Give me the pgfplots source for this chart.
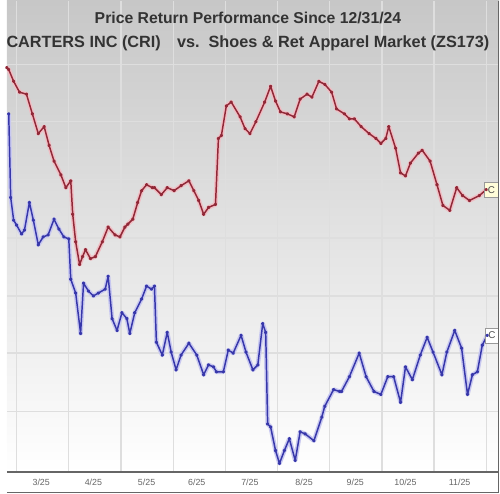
\documentclass[border=0pt]{standalone}
\usepackage{fontspec}
\setmainfont{Liberation Sans}
\usepackage{pgfplots}
\pgfplotsset{compat=1.18}
\begin{document}
\begin{tikzpicture}
\fill[white] (0pt,0pt) rectangle (500pt,500pt);
\fill[black!22] (0pt,440pt) rectangle (500pt,500pt);
\foreach \i in {0,...,38} {
  \pgfmathsetmacro{\shadeval}{20*(1-\i/39)^1.3}
  \pgfmathsetmacro{\ytop}{440-\i*8}
  \pgfmathsetmacro{\ybot}{440-\i*8-8.5}
  \fill[black!\shadeval] (0pt,\ybot pt) rectangle (500pt,\ytop pt);
}
\begin{axis}[
  at={(0pt,21pt)}, anchor=south west,
  scale only axis, width=500pt, height=479pt,
  xmin=0, xmax=500, ymin=0, ymax=479,
  axis background/.style={shade, top color=black!22, middle color=black!6, bottom color=white},
  axis line style={draw=none},
  xtick={35,88,142,193,247,302,354,405,460},
  xticklabels={3/25,4/25,5/25,6/25,7/25,8/25,9/25,10/25,11/25},
  xticklabel style={font=\fontsize{9}{10}\selectfont, text=black!60, yshift=-3pt},
  minor xtick={10,63,116,169,222,275,328,381,434,487},
  xminorgrids,
  ytick={62,121,179,238,297,356,414},
  yticklabels={},
  ymajorgrids,
  major tick length=0pt, minor tick length=0pt,
  grid style={black!13, line width=1.3pt},
  minor grid style={black!13, line width=1.3pt},
]
\addplot[color={rgb,255:red,145;green,40;blue,55}, line width=1.5pt, line join=round,
  preaction={draw={rgb,255:red,240;green,190;blue,196}, line width=4.5pt},
  mark=*, mark size=1pt] table {
x y
0 411
2 409
7 397
13 386
20 384
26 364
32 344
38 351
43 332
48 316
55 302
60 289
65 296
67 262
70 234
74 211
77 219
80 226
85 217
90 219
97 234
103 249
110 241
115 239
120 249
123 252
128 257
133 274
137 286
142 292
148 289
150 289
157 282
163 289
170 286
177 291
185 296
190 286
195 276
200 262
205 269
212 272
215 339
218 342
223 372
228 376
237 361
242 349
247 344
253 356
262 376
268 392
273 377
278 366
285 364
292 361
298 379
305 384
310 381
317 397
323 394
330 386
335 369
343 364
348 359
353 359
360 351
368 344
375 339
380 334
385 339
388 351
395 329
400 304
405 301
410 314
418 324
422 327
430 316
437 292
443 271
450 266
457 289
463 281
470 276
480 281
487 287
};
\addplot[color={rgb,255:red,55;green,55;blue,170}, line width=1.5pt, line join=round,
  preaction={draw={rgb,255:red,200;green,200;blue,240}, line width=4.5pt},
  mark=*, mark size=1pt] table {
x y
2 364
4 279
7 256
10 251
15 242
18 246
23 274
27 256
32 231
37 239
42 241
48 257
53 247
58 239
63 237
65 196
70 182
75 141
78 192
83 184
88 179
93 182
100 186
103 199
107 156
112 144
117 162
122 156
125 141
130 162
137 176
142 189
147 186
150 189
152 132
158 119
163 142
167 122
172 104
177 119
185 131
193 119
200 99
205 109
210 107
213 102
220 102
225 124
230 121
238 139
243 122
250 104
255 109
260 151
263 142
265 49
268 46
273 22
277 9
282 22
287 34
293 12
298 41
303 39
312 32
320 56
323 67
332 84
338 82
340 82
348 97
358 121
365 97
373 82
380 79
387 97
393 97
400 71
405 107
412 94
420 119
427 137
433 122
442 99
447 122
455 144
462 126
468 79
473 99
478 102
483 129
488 139
};
\node[draw=black!40, fill=yellow!15, anchor=west, minimum width=14pt, minimum height=15pt, inner sep=1pt, font=\fontsize{10}{11}\selectfont, text=black!70] at (axis cs:485,287) {C};
\node[draw=black!40, fill=white, anchor=west, minimum width=13pt, minimum height=15pt, inner sep=1pt, font=\fontsize{10}{11}\selectfont, text=black!70] at (axis cs:486,139) {C};
\node[text=black!80, font=\fontsize{16}{18}\selectfont\bfseries] at (axis cs:245,461) {Price Return Performance Since 12/31/24};
\node[text=black!80, font=\fontsize{16.5}{18}\selectfont\bfseries] at (axis cs:245,436) {CARTERS INC (CRI)\quad vs.\ \ Shoes \& Ret Apparel Market (ZS173)};
\end{axis}
\draw[black!60, line width=2pt] (0pt,21pt) -- (500pt,21pt);
\draw[black!60, line width=1pt] (0pt,0.5pt) -- (500pt,0.5pt);
\draw[black!60, line width=1pt] (499.5pt,0pt) -- (499.5pt,500pt);
\useasboundingbox (0pt,0pt) rectangle (500pt,500pt);
\end{tikzpicture}
\end{document}
